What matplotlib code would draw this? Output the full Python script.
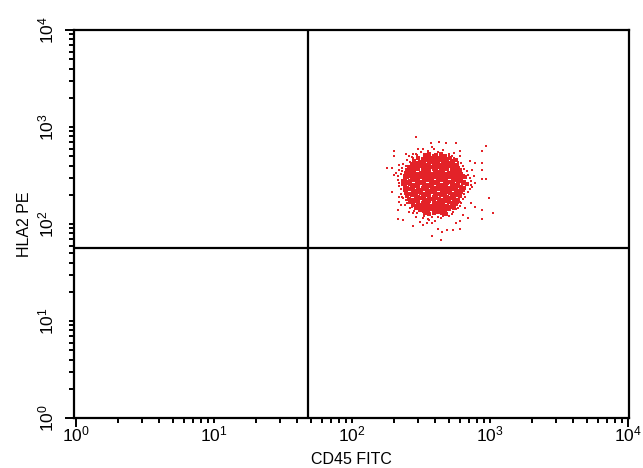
import numpy as np
import matplotlib.pyplot as plt
from matplotlib.ticker import LogLocator, NullFormatter, FixedLocator, FixedFormatter

plt.rcParams['font.family'] = ['Liberation Sans', 'DejaVu Sans']
plt.rcParams['mathtext.fontset'] = 'custom'
plt.rcParams['mathtext.rm'] = 'Liberation Sans'
plt.rcParams['mathtext.it'] = 'Liberation Sans'
plt.rcParams['mathtext.default'] = 'regular'

# axis decades and labels
decades = [1, 10, 100, 1000, 10000]
decade_labels = ['$10^{0}$', '$10^{1}$', '$10^{2}$', '$10^{3}$', '$10^{4}$']

# quadrant gates
cd45_gate = 48
hla2_gate = 56

# events in the dense core of the cluster, log10 units (decades)
cd45_core = [
    2.53, 2.56, 2.59, 2.61, 2.64, 2.67,
    2.48, 2.51, 2.54, 2.57, 2.59, 2.62, 2.65, 2.68, 2.71,
    2.45, 2.49, 2.52, 2.55, 2.57, 2.60, 2.63, 2.66, 2.69, 2.72, 2.75,
    2.43, 2.46, 2.48, 2.51, 2.54, 2.56, 2.59, 2.62, 2.64, 2.67, 2.70, 2.73, 2.76,
    2.41, 2.44, 2.47, 2.50, 2.52, 2.55, 2.58, 2.60, 2.63, 2.65, 2.68, 2.71, 2.74, 2.77,
    2.40, 2.42, 2.45, 2.48, 2.51, 2.53, 2.56, 2.59, 2.61, 2.64, 2.66, 2.69, 2.72, 2.75, 2.78,
    2.39, 2.42, 2.44, 2.47, 2.50, 2.52, 2.55, 2.57, 2.60, 2.63, 2.65, 2.68, 2.70, 2.73, 2.76, 2.79,
    2.38, 2.41, 2.43, 2.46, 2.49, 2.51, 2.54, 2.56, 2.59, 2.62, 2.64, 2.67, 2.69, 2.72, 2.75, 2.77, 2.80,
    2.38, 2.40, 2.43, 2.45, 2.48, 2.50, 2.53, 2.56, 2.58, 2.61, 2.63, 2.66, 2.68, 2.71, 2.74, 2.76, 2.79, 2.82,
    2.37, 2.40, 2.42, 2.45, 2.47, 2.50, 2.52, 2.55, 2.57, 2.60, 2.62, 2.65, 2.68, 2.70, 2.73, 2.75, 2.78, 2.81,
    2.37, 2.39, 2.42, 2.44, 2.47, 2.49, 2.52, 2.54, 2.57, 2.59, 2.62, 2.64, 2.67, 2.69, 2.72, 2.74, 2.77, 2.80, 2.83,
    2.38, 2.40, 2.43, 2.46, 2.48, 2.51, 2.53, 2.56, 2.58, 2.61, 2.63, 2.66, 2.68, 2.71, 2.73, 2.76, 2.79, 2.81,
    2.38, 2.41, 2.44, 2.46, 2.49, 2.52, 2.54, 2.57, 2.59, 2.62, 2.65, 2.67, 2.70, 2.72, 2.75, 2.78, 2.80,
    2.39, 2.42, 2.45, 2.47, 2.50, 2.53, 2.55, 2.58, 2.60, 2.63, 2.66, 2.68, 2.71, 2.74, 2.76, 2.79,
    2.40, 2.43, 2.46, 2.48, 2.51, 2.54, 2.56, 2.59, 2.61, 2.64, 2.67, 2.69, 2.72, 2.75, 2.78,
    2.41, 2.44, 2.47, 2.50, 2.52, 2.55, 2.58, 2.60, 2.63, 2.65, 2.68, 2.71, 2.74, 2.77,
    2.42, 2.45, 2.48, 2.51, 2.54, 2.56, 2.59, 2.62, 2.64, 2.67, 2.70, 2.73, 2.76,
    2.44, 2.47, 2.50, 2.53, 2.55, 2.58, 2.61, 2.63, 2.66, 2.69, 2.72, 2.75,
    2.46, 2.49, 2.52, 2.55, 2.57, 2.60, 2.63, 2.65, 2.68, 2.71, 2.74,
    2.49, 2.52, 2.55, 2.58, 2.61, 2.64, 2.67, 2.70,
    2.53, 2.56, 2.59, 2.62, 2.65, 2.68,
]
hla2_core = [
    2.71, 2.72, 2.70, 2.71, 2.72, 2.70,
    2.68, 2.67, 2.69, 2.68, 2.67, 2.68, 2.69, 2.67, 2.68,
    2.65, 2.64, 2.65, 2.66, 2.64, 2.65, 2.66, 2.65, 2.64, 2.65, 2.66,
    2.62, 2.61, 2.63, 2.62, 2.61, 2.62, 2.63, 2.62, 2.61, 2.62, 2.63, 2.62, 2.61,
    2.59, 2.58, 2.59, 2.60, 2.59, 2.58, 2.59, 2.60, 2.59, 2.58, 2.59, 2.60, 2.59, 2.58,
    2.56, 2.55, 2.56, 2.57, 2.56, 2.55, 2.56, 2.57, 2.56, 2.55, 2.56, 2.57, 2.56, 2.55, 2.56,
    2.53, 2.54, 2.53, 2.52, 2.53, 2.54, 2.53, 2.52, 2.53, 2.54, 2.53, 2.52, 2.53, 2.54, 2.53, 2.52,
    2.50, 2.49, 2.50, 2.51, 2.50, 2.49, 2.50, 2.51, 2.50, 2.49, 2.50, 2.51, 2.50, 2.49, 2.50, 2.51, 2.50,
    2.47, 2.48, 2.47, 2.46, 2.47, 2.48, 2.47, 2.46, 2.47, 2.48, 2.47, 2.46, 2.47, 2.48, 2.47, 2.46, 2.47, 2.48,
    2.44, 2.43, 2.44, 2.45, 2.44, 2.43, 2.44, 2.45, 2.44, 2.43, 2.44, 2.45, 2.44, 2.43, 2.44, 2.45, 2.44, 2.43,
    2.41, 2.42, 2.41, 2.40, 2.41, 2.42, 2.41, 2.40, 2.41, 2.42, 2.41, 2.40, 2.41, 2.42, 2.41, 2.40, 2.41, 2.42, 2.41,
    2.38, 2.37, 2.38, 2.39, 2.38, 2.37, 2.38, 2.39, 2.38, 2.37, 2.38, 2.39, 2.38, 2.37, 2.38, 2.39, 2.38, 2.37,
    2.35, 2.36, 2.35, 2.34, 2.35, 2.36, 2.35, 2.34, 2.35, 2.36, 2.35, 2.34, 2.35, 2.36, 2.35, 2.34, 2.35,
    2.32, 2.31, 2.32, 2.33, 2.32, 2.31, 2.32, 2.33, 2.32, 2.31, 2.32, 2.33, 2.32, 2.31, 2.32, 2.33,
    2.29, 2.30, 2.29, 2.28, 2.29, 2.30, 2.29, 2.28, 2.29, 2.30, 2.29, 2.28, 2.29, 2.30, 2.29,
    2.26, 2.25, 2.26, 2.27, 2.26, 2.25, 2.26, 2.27, 2.26, 2.25, 2.26, 2.27, 2.26, 2.25,
    2.23, 2.24, 2.23, 2.22, 2.23, 2.24, 2.23, 2.22, 2.23, 2.24, 2.23, 2.22, 2.23,
    2.20, 2.19, 2.20, 2.21, 2.20, 2.19, 2.20, 2.21, 2.20, 2.19, 2.20, 2.21,
    2.17, 2.18, 2.17, 2.16, 2.17, 2.18, 2.17, 2.16, 2.17, 2.18, 2.17,
    2.14, 2.13, 2.14, 2.15, 2.14, 2.13, 2.14, 2.15,
    2.11, 2.10, 2.11, 2.12, 2.11, 2.10,
]

# scattered events around the core
cd45_sparse = [
    2.46, 2.63, 2.57, 2.68, 2.75, 2.97, 2.30, 2.48, 2.51, 2.58, 2.78,
    2.30, 2.39, 2.44, 2.70, 2.85, 2.89, 2.94, 2.34, 2.25, 2.29, 2.87,
    2.94, 2.30, 2.94, 2.97, 2.87, 2.29, 2.34, 2.34, 2.99, 2.38, 2.33,
    2.78, 2.86, 2.94, 3.02, 2.37, 2.33, 2.94, 2.84, 2.78, 2.51, 2.58,
    2.73, 2.69, 2.58, 2.64, 2.78, 2.65, 2.44, 2.51, 2.35, 2.41, 2.46,
    2.49, 2.54, 2.44, 2.62, 2.89, 2.82, 2.80, 2.75, 2.94, 2.78, 2.73,
    2.40, 2.37, 2.43, 2.46, 2.36, 2.72, 2.76, 2.79, 2.74, 2.83, 2.85,
    2.86, 2.84, 2.82, 2.79, 2.77, 2.73, 2.70, 2.64, 2.58, 2.55, 2.47,
    2.42, 2.40, 2.37, 2.35, 2.34, 2.33, 2.35, 2.34,
    2.50, 2.55, 2.62, 2.66, 2.59, 2.42, 2.44, 2.39, 2.47, 2.41,
    2.74, 2.77, 2.80, 2.70, 2.78, 2.81, 2.84, 2.86, 2.85, 2.88, 2.89,
    2.80, 2.78, 2.75, 2.72, 2.81, 2.62, 2.66, 2.52, 2.56, 2.60,
    2.43, 2.45, 2.39, 2.36, 2.38, 2.34, 2.33, 2.35, 2.32, 2.36,
]
hla2_sparse = [
    2.90, 2.85, 2.83, 2.83, 2.83, 2.80, 2.75, 2.77, 2.77, 2.79, 2.75,
    2.70, 2.72, 2.72, 2.71, 2.65, 2.63, 2.63, 2.61, 2.58, 2.58, 2.56,
    2.56, 2.51, 2.46, 2.46, 2.38, 2.33, 2.28, 2.23, 2.27, 2.20, 2.14,
    2.23, 2.22, 2.14, 2.11, 2.04, 2.05, 2.05, 2.06, 2.03, 1.99, 2.01,
    1.94, 1.94, 1.88, 1.83, 1.95, 1.92, 2.11, 2.06, 2.20, 2.12, 2.07,
    2.02, 2.01, 1.98, 1.95, 2.18, 2.17, 2.09, 2.01, 2.75, 2.56, 2.63,
    2.66, 2.62, 2.69, 2.72, 2.58, 2.70, 2.67, 2.63, 2.73, 2.55, 2.47,
    2.40, 2.33, 2.28, 2.22, 2.16, 2.12, 2.08, 2.06, 2.07, 2.05, 2.11,
    2.16, 2.22, 2.27, 2.31, 2.39, 2.45, 2.52, 2.56,
    2.74, 2.75, 2.74, 2.76, 2.77, 2.64, 2.68, 2.60, 2.71, 2.70,
    2.68, 2.64, 2.60, 2.72, 2.70, 2.57, 2.51, 2.44, 2.36, 2.50, 2.42,
    2.26, 2.19, 2.15, 2.10, 2.31, 2.07, 2.08, 2.08, 2.04, 2.03,
    2.18, 2.13, 2.25, 2.28, 2.20, 2.42, 2.49, 2.36, 2.53, 2.55,
]

fig = plt.figure(figsize=(6.43, 4.68), dpi=100)
ax = fig.add_axes([0.1151, 0.1068, 0.8631, 0.8291])
ax.set_xscale('log')
ax.set_yscale('log')

red = '#e32228'
ax.scatter(10 ** np.array(cd45_core), 10 ** np.array(hla2_core),
           s=9, marker='s', c=red, linewidths=0, zorder=2)
ax.scatter(10 ** np.array(cd45_sparse), 10 ** np.array(hla2_sparse),
           s=4.5, marker='s', c=red, linewidths=0, zorder=2)

ax.axvline(cd45_gate, color='black', lw=1.6, zorder=3)
ax.axhline(hla2_gate, color='black', lw=1.6, zorder=3)

ax.set_xlim(10 ** -0.015, 10 ** 4.005)
ax.set_ylim(1, 10000)

for axis in (ax.xaxis, ax.yaxis):
    axis.set_major_locator(FixedLocator(decades))
    axis.set_major_formatter(FixedFormatter(decade_labels))
    axis.set_minor_locator(LogLocator(base=10, subs=np.arange(2, 10), numticks=20))
    axis.set_minor_formatter(NullFormatter())

for s in ax.spines.values():
    s.set_linewidth(1.6)

ax.tick_params(which='both', direction='out', width=1.4, length=3.8, top=False, right=False)
ax.tick_params(which='major', labelsize=12.5)
ax.tick_params(axis='x', which='major', pad=1)
ax.tick_params(axis='y', which='major', pad=9, labelrotation=90)
for t in ax.yaxis.get_majorticklabels():
    t.set_va('center')

# longer ticks at both ends of each axis
for ticks in (ax.xaxis.get_major_ticks(), ax.yaxis.get_major_ticks()):
    for i in (0, -1):
        ticks[i].tick1line.set_markersize(6.5)

ax.set_xlabel('CD45 FITC', fontsize=11.5, labelpad=5)
ax.set_ylabel('HLA2 PE', fontsize=11.5, labelpad=3)

plt.savefig('out.png', dpi=100)
